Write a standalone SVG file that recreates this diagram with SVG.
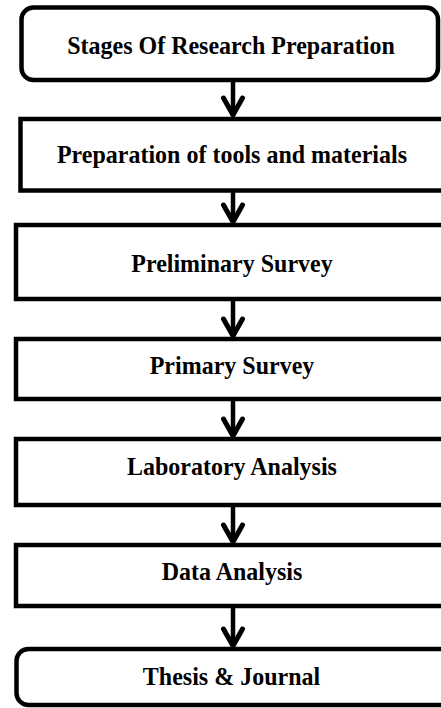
<svg xmlns="http://www.w3.org/2000/svg" width="441" height="708" viewBox="0 0 441 708">
<style>
.box{fill:#fff;stroke:#000;stroke-width:4.5}
.lbl{font-family:"Liberation Serif","Times New Roman",serif;font-weight:bold;font-size:24px;fill:#000;text-anchor:middle}
.arr{fill:none;stroke:#000;stroke-width:4.5}
.head{fill:none;stroke:#000;stroke-width:5;stroke-linejoin:miter;stroke-linecap:round}
</style>
<rect width="441" height="708" fill="#fff"/>
<g id="connectors">
<path class="arr" d="M233 82 V116"/><path class="head" d="M223.5 98 L233 115 L242.5 98"/>
<path class="arr" d="M233 192 V222"/><path class="head" d="M223.5 205 L233 222 L242.5 205"/>
<path class="arr" d="M233 301 V336"/><path class="head" d="M223.5 319 L233 336 L242.5 319"/>
<path class="arr" d="M233 401 V436"/><path class="head" d="M223.5 419 L233 436 L242.5 419"/>
<path class="arr" d="M233 507 V542"/><path class="head" d="M223.5 525 L233 542 L242.5 525"/>
<path class="arr" d="M233 608 V646"/><path class="head" d="M223.5 629 L233 646 L242.5 629"/>
</g>
<g id="n1"><rect class="box" x="21.5" y="7.5" width="416.5" height="72.5" rx="12"/><text class="lbl" x="231" y="54" transform="translate(0,54) scale(1,1.08) translate(0,-54)">Stages Of Research Preparation</text></g>
<g id="n2"><rect class="box" x="20.5" y="119" width="430" height="71.5"/><text class="lbl" x="232" y="163" transform="translate(0,163) scale(1,1.08) translate(0,-163)">Preparation of tools and materials</text></g>
<g id="n3"><rect class="box" x="16" y="225" width="440" height="74"/><text class="lbl" x="232" y="272" transform="translate(0,272) scale(1,1.08) translate(0,-272)">Preliminary Survey</text></g>
<g id="n4"><rect class="box" x="16" y="339" width="440" height="60"/><text class="lbl" x="232" y="374" transform="translate(0,374) scale(1,1.08) translate(0,-374)">Primary Survey</text></g>
<g id="n5"><rect class="box" x="16" y="439" width="440" height="66"/><text class="lbl" x="232" y="475" transform="translate(0,475) scale(1,1.08) translate(0,-475)">Laboratory Analysis</text></g>
<g id="n6"><rect class="box" x="16" y="545" width="440" height="61"/><text class="lbl" x="232" y="580" transform="translate(0,580) scale(1,1.08) translate(0,-580)">Data Analysis</text></g>
<g id="n7"><rect class="box" x="16.5" y="649" width="440" height="56" rx="12"/><text class="lbl" x="231.5" y="685" transform="translate(0,685) scale(1,1.08) translate(0,-685)">Thesis &amp; Journal</text></g>
</svg>
